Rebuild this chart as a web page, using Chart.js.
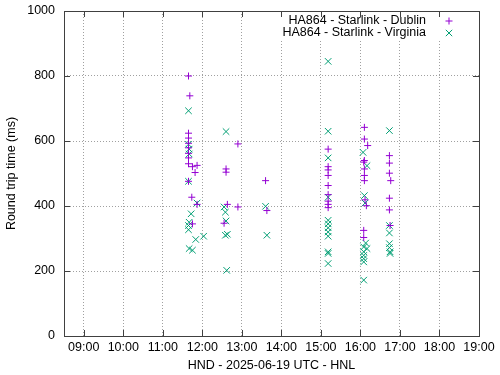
<!DOCTYPE html>
<html><head><meta charset="utf-8">
<script src="https://cdn.jsdelivr.net/npm/chart.js@4/dist/chart.umd.min.js"></script>
<style>html,body{margin:0;padding:0;background:#fff}#wrap{width:500px;height:375px}</style>
</head><body><div id="wrap"><canvas id="c" width="500" height="375"></canvas></div>
<script>
const seriesNames = ["HA864 - Starlink - Dublin", "HA864 - Starlink - Virginia"];
const xAxisTitle = "HND - 2025-06-19 UTC - HNL";
const yAxisTitle = "Round trip time (ms)";

const dublinTimes = ["11:39","11:41","11:39","11:39","11:39","11:39","11:39","11:39","11:39","11:45","11:52","11:49","11:39","11:44","11:52","11:45",
  "12:36","12:36","12:38","12:33","12:54","12:54",
  "13:36","13:38",
  "15:11","15:11","15:11","15:11","15:11","15:11","15:11","15:11","15:11",
  "16:06","16:06","16:11","16:06","16:05","16:06","16:06","16:06","16:07","16:09","16:05","16:05",
  "16:44","16:44","16:44","16:46","16:44","16:44","16:45"];
const dublinRtt = [800,739,624,609,593,579,562,548,530,521,525,503,476,427,405,345,
  514,504,405,347,591,397,
  478,386,
  575,521,511,494,463,435,415,405,395,
  642,606,586,540,535,514,494,478,419,401,325,303,
  555,532,501,478,424,388,340];

const virginiaTimes = ["11:39","11:39","11:40","11:40","11:39","11:52","11:43","11:40","11:39","11:39","11:50","12:02","11:40","11:45",
  "12:36","12:33","12:35","12:36","12:35","12:38","12:37",
  "13:36","13:38",
  "15:11","15:11","15:11","15:11","15:11","15:11","15:11","15:11","15:11","15:11","15:11","15:11",
  "16:04","16:10","16:06","16:07","16:08","16:10","16:05","16:05","16:05","16:05","16:05","16:05",
  "16:44","16:44","16:44","16:44","16:44","16:45","16:45"];
const virginiaRtt = [693,590,575,560,476,409,376,350,340,327,297,307,269,264,
  629,397,381,354,310,313,202,
  399,310,
  845,630,548,427,356,345,333,320,307,259,254,223,
  565,524,432,409,286,269,274,259,248,238,228,172,
  632,340,317,284,272,259,254];

const xTickHours = [9,10,11,12,13,14,15,16,17,18,19];
const yTickValues = [0,200,400,600,800,1000];

function toHours(t){ const [h,m] = t.split(":").map(Number); return h + m/60; }
function pts(times, vals){ return times.map((t,i)=>({x: toHours(t), y: vals[i]})); }
function hh(v){ return (v<10?"0":"") + v + ":00"; }

const COLORS = ["#9400d3", "#009e73"];
const STYLES = ["cross", "crossRot"];
const RADII = [3.5, 4.6];
const FONT = "'Liberation Sans', Arial, sans-serif";
const FSIZE = 12.5;

const framePlugin = {
  id: 'frame',
  afterDraw(chart){
    const {ctx, chartArea:a, scales} = chart;
    const xs = scales.x, ys = scales.y;
    ctx.save();
    // opaque key box
    ctx.fillStyle = '#fff';
    ctx.fillRect(277, a.top + 1, 190, 27);
    // border
    ctx.strokeStyle = '#404040';
    ctx.lineWidth = 1;
    ctx.setLineDash([]);
    ctx.strokeRect(Math.round(a.left)+0.5, Math.round(a.top)+0.5, Math.round(a.right-a.left), Math.round(a.bottom-a.top));
    // tick marks, inward, mirrored
    ctx.beginPath();
    xTickHours.forEach(v=>{
      const px = Math.round(xs.getPixelForValue(v)) + 0.5;
      ctx.moveTo(px, a.bottom); ctx.lineTo(px, a.bottom - 6);
      ctx.moveTo(px, a.top); ctx.lineTo(px, a.top + 6);
    });
    yTickValues.forEach(v=>{
      const py = Math.round(ys.getPixelForValue(v)) + 0.5;
      ctx.moveTo(a.left, py); ctx.lineTo(a.left + 6, py);
      ctx.moveTo(a.right, py); ctx.lineTo(a.right - 6, py);
    });
    ctx.stroke();
    // key
    ctx.font = FSIZE + "px " + FONT;
    ctx.fillStyle = '#000';
    ctx.textAlign = 'right';
    ctx.textBaseline = 'middle';
    seriesNames.forEach((name, i)=>{
      const ty = 21 + i*12;
      ctx.fillText(name, 426, ty);
      const sx = 449;
      ctx.strokeStyle = COLORS[i];
      ctx.beginPath();
      if (STYLES[i] === 'cross') {
        ctx.moveTo(sx-3.5, ty); ctx.lineTo(sx+3.5, ty);
        ctx.moveTo(sx, ty-3.5); ctx.lineTo(sx, ty+3.5);
      } else {
        const d = 3.2;
        ctx.moveTo(sx-d, ty-d); ctx.lineTo(sx+d, ty+d);
        ctx.moveTo(sx-d, ty+d); ctx.lineTo(sx+d, ty-d);
      }
      ctx.stroke();
    });
    ctx.restore();
  }
};

new Chart(document.getElementById('c'), {
  type: 'scatter',
  data: {
    datasets: [
      { label: seriesNames[0], data: pts(dublinTimes, dublinRtt), pointStyle: STYLES[0], radius: RADII[0], borderColor: COLORS[0], backgroundColor: COLORS[0], borderWidth: 1, hoverRadius: RADII[0] },
      { label: seriesNames[1], data: pts(virginiaTimes, virginiaRtt), pointStyle: STYLES[1], radius: RADII[1], borderColor: COLORS[1], backgroundColor: COLORS[1], borderWidth: 1, hoverRadius: RADII[1] }
    ]
  },
  options: {
    responsive: false,
    devicePixelRatio: 1,
    animation: false,
    events: [],
    layout: { padding: { top: 11, right: 21, left: 0, bottom: 0 } },
    plugins: { legend: { display: false }, tooltip: { enabled: false } },
    scales: {
      x: {
        type: 'linear', min: 8.5, max: 19,
        afterBuildTicks: s => { s.ticks = xTickHours.map(v=>({value:v})); },
        afterFit: s => { s.height = 39; s.paddingLeft = 0; s.paddingRight = 0; },
        ticks: { callback: v => hh(v), font: { family: FONT, size: FSIZE }, color: '#000', padding: 4, maxRotation: 0, autoSkip: false },
        grid: { color: '#a0a0a0', lineWidth: 1, drawTicks: false },
        border: { display: false, dash: [1, 2] },
        title: { display: true, text: xAxisTitle, font: { family: FONT, size: FSIZE }, color: '#000', padding: { top: 2, bottom: 2 } }
      },
      y: {
        type: 'linear', min: 0, max: 1000,
        afterBuildTicks: s => { s.ticks = yTickValues.map(v=>({value:v})); },
        afterFit: s => { s.width = 64; s.paddingTop = 0; s.paddingBottom = 0; },
        ticks: { callback: v => String(v), font: { family: FONT, size: FSIZE }, color: '#000', padding: 9 },
        grid: { color: '#a0a0a0', lineWidth: 1, drawTicks: false },
        border: { display: false, dash: [1, 2] },
        title: { display: true, text: yAxisTitle, font: { family: FONT, size: FSIZE }, color: '#000', padding: { top: 4, bottom: 4 } }
      }
    }
  },
  plugins: [framePlugin]
});
</script></body></html>
